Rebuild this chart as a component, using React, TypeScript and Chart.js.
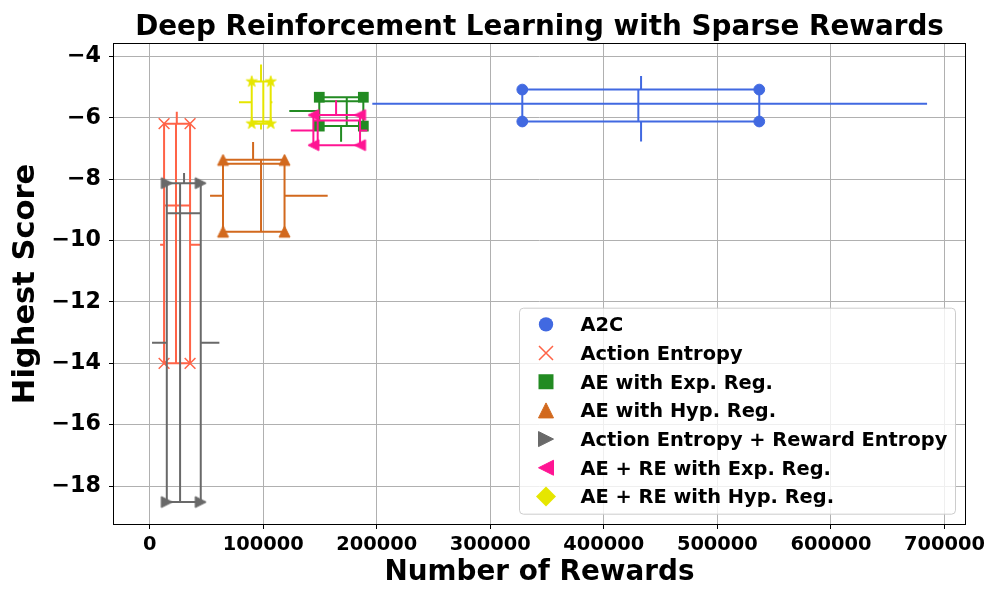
import React, { useEffect, useRef } from 'react';
import { Chart, registerables } from 'chart.js';

Chart.register(...registerables);

// ---------------- data ----------------
const seriesNames = [
  'A2C',
  'Action Entropy',
  'AE with Exp. Reg.',
  'AE with Hyp. Reg.',
  'Action Entropy + Reward Entropy',
  'AE + RE with Exp. Reg.',
  'AE + RE with Hyp. Reg.',
];

// box bounds (number of rewards / highest score)
const xBoxLow = [328200, 12700, 149400, 64600, 15100, 144200, 89900];
const xBoxHigh = [536900, 35600, 188200, 118800, 45000, 185300, 106600];
const yBoxLow = [-6.12, -14.0, -6.27, -9.71, -18.52, -6.89, -6.19];
const yBoxHigh = [-5.08, -6.19, -5.33, -7.37, -8.13, -5.91, -4.82];
// median lines inside the box
const xMedian = [430400, 23200, 173600, 98100, 26800, 148000, 100100];
const yMedian = [-5.54, -8.86, -5.46, -7.5, -9.11, -6.09, -6.12];
// whiskers
const xWhiskerAt = [432800, 23900, 168600, 91100, 30300, 164200, 98100];
const yWhiskerAt = [-5.54, -10.14, -5.78, -8.54, -13.33, -6.41, -5.49];
const xWhiskerLow = [196100, 9200, 123000, 53200, 2100, 124300, 78700];
const xWhiskerHigh = [684700, 44400, 188200, 156800, 61400, 191700, 108100];
const yWhiskerLow = [-6.77, -14.0, -6.78, -9.71, -18.52, -6.89, -6.38];
const yWhiskerHigh = [-4.64, -5.8, -5.33, -6.79, -7.8, -5.43, -4.26];

const xTickValues = [0, 100000, 200000, 300000, 400000, 500000, 600000, 700000];
const yTickValues = [-18, -16, -14, -12, -10, -8, -6, -4];

const titleText = 'Deep Reinforcement Learning with Sparse Rewards';
const xLabel = 'Number of Rewards';
const yLabel = 'Highest Score';

// ---------------- styles ----------------
const colors = ['#4169E1', '#FF6347', '#228B22', '#D2691E', '#696969', '#FF1493', '#E6E600'];
const markerKinds = ['circle', 'x', 'square', 'triUp', 'triRight', 'triLeft', 'star'];
const legendKinds = ['circle', 'x', 'square', 'triUp', 'triRight', 'triLeft', 'diamond'];
const FAMILY = '"DejaVu Sans", "Liberation Sans", sans-serif';

function drawShape(ctx: CanvasRenderingContext2D, kind: string, cx: number, cy: number, s: number, color: string) {
  const h = s / 2;
  ctx.save();
  ctx.fillStyle = color;
  ctx.strokeStyle = color;
  ctx.lineWidth = 1;
  ctx.lineJoin = 'miter';
  ctx.beginPath();
  switch (kind) {
    case 'circle':
      ctx.arc(cx, cy, h, 0, Math.PI * 2);
      ctx.fill();
      break;
    case 'x':
      ctx.lineWidth = 1.5;
      ctx.moveTo(cx - h, cy - h);
      ctx.lineTo(cx + h, cy + h);
      ctx.moveTo(cx - h, cy + h);
      ctx.lineTo(cx + h, cy - h);
      ctx.stroke();
      break;
    case 'square':
      ctx.rect(cx - h, cy - h, s, s);
      ctx.fill();
      break;
    case 'triUp':
      ctx.moveTo(cx, cy - h);
      ctx.lineTo(cx - h, cy + h);
      ctx.lineTo(cx + h, cy + h);
      ctx.closePath();
      ctx.fill();
      ctx.stroke();
      break;
    case 'triRight':
      ctx.moveTo(cx + h, cy);
      ctx.lineTo(cx - h, cy - h);
      ctx.lineTo(cx - h, cy + h);
      ctx.closePath();
      ctx.fill();
      ctx.stroke();
      break;
    case 'triLeft':
      ctx.moveTo(cx - h, cy);
      ctx.lineTo(cx + h, cy - h);
      ctx.lineTo(cx + h, cy + h);
      ctx.closePath();
      ctx.fill();
      ctx.stroke();
      break;
    case 'diamond':
      ctx.moveTo(cx, cy - h);
      ctx.lineTo(cx + h, cy);
      ctx.lineTo(cx, cy + h);
      ctx.lineTo(cx - h, cy);
      ctx.closePath();
      ctx.fill();
      break;
    case 'star': {
      const inner = h * 0.381966;
      for (let i = 0; i < 10; i++) {
        const r = i % 2 === 0 ? h : inner;
        const a = -Math.PI / 2 + (i * Math.PI) / 5;
        const px = cx + r * Math.cos(a);
        const py = cy + r * Math.sin(a);
        if (i === 0) ctx.moveTo(px, py);
        else ctx.lineTo(px, py);
      }
      ctx.closePath();
      ctx.fill();
      ctx.stroke();
      break;
    }
  }
  ctx.restore();
}

function markerCanvas(kind: string, color: string, s: number): HTMLCanvasElement {
  const dim = Math.ceil(s + 4);
  const c = document.createElement('canvas');
  c.width = dim;
  c.height = dim;
  const ctx = c.getContext('2d')!;
  drawShape(ctx, kind, dim / 2, dim / 2, s, color);
  return c;
}

function buildSegments(i: number) {
  const pts: any[] = [];
  const gap = { x: null, y: null };
  pts.push(
    { x: xBoxLow[i], y: yBoxHigh[i] },
    { x: xBoxHigh[i], y: yBoxHigh[i] },
    { x: xBoxHigh[i], y: yBoxLow[i] },
    { x: xBoxLow[i], y: yBoxLow[i] },
    { x: xBoxLow[i], y: yBoxHigh[i] },
    gap
  );
  const seg = (x1: number, y1: number, x2: number, y2: number) => {
    pts.push({ x: x1, y: y1 }, { x: x2, y: y2 }, gap);
  };
  seg(xMedian[i], yBoxLow[i], xMedian[i], yBoxHigh[i]);
  seg(xBoxLow[i], yMedian[i], xBoxHigh[i], yMedian[i]);
  seg(xWhiskerLow[i], yWhiskerAt[i], xBoxLow[i], yWhiskerAt[i]);
  seg(xBoxHigh[i], yWhiskerAt[i], xWhiskerHigh[i], yWhiskerAt[i]);
  seg(xWhiskerAt[i], yBoxHigh[i], xWhiskerAt[i], yWhiskerHigh[i]);
  seg(xWhiskerAt[i], yWhiskerLow[i], xWhiskerAt[i], yBoxLow[i]);
  return pts;
}

function corners(i: number) {
  return [
    { x: xBoxLow[i], y: yBoxHigh[i] },
    { x: xBoxHigh[i], y: yBoxHigh[i] },
    { x: xBoxLow[i], y: yBoxLow[i] },
    { x: xBoxHigh[i], y: yBoxLow[i] },
  ];
}

const framePlugin = {
  id: 'frame',
  afterDatasetsDraw(chart: any) {
    const { ctx, chartArea } = chart;
    ctx.save();
    ctx.strokeStyle = '#000';
    ctx.lineWidth = 1;
    const l = Math.round(chartArea.left) - 0.5;
    const t = Math.round(chartArea.top) - 0.5;
    const r = Math.round(chartArea.right) + 0.5;
    const b = Math.round(chartArea.bottom) + 0.5;
    ctx.strokeRect(l, t, r - l, b - t);
    ctx.restore();
  },
};

const titlePlugin = {
  id: 'customTitle',
  afterDraw(chart: any) {
    const { ctx, chartArea } = chart;
    ctx.save();
    ctx.font = `bold 27.8px ${FAMILY}`;
    ctx.fillStyle = '#000';
    ctx.textAlign = 'center';
    ctx.textBaseline = 'alphabetic';
    ctx.fillText(titleText, (chartArea.left + chartArea.right) / 2, 35);
    ctx.restore();
  },
};

const legendSizes: Record<string, number> = {
  circle: 14.3,
  x: 14,
  square: 15,
  triUp: 15,
  triRight: 15,
  triLeft: 15,
  diamond: 20,
};

const legendPlugin = {
  id: 'customLegend',
  afterDraw(chart: any) {
    const { ctx, chartArea } = chart;
    const w = 436;
    const h = 206;
    const right = chartArea.right - 10;
    const bottom = chartArea.bottom - 10.3;
    const left = right - w;
    const top = bottom - h;
    ctx.save();
    ctx.beginPath();
    (ctx as any).roundRect(left + 0.5, top + 0.5, w, h, 4);
    ctx.fillStyle = 'rgba(255,255,255,0.8)';
    ctx.fill();
    ctx.strokeStyle = '#cccccc';
    ctx.lineWidth = 1;
    ctx.stroke();
    ctx.font = `bold 19.4px ${FAMILY}`;
    ctx.fillStyle = '#000';
    ctx.textAlign = 'left';
    ctx.textBaseline = 'alphabetic';
    seriesNames.forEach((name, i) => {
      const cy = top + 16.7 + i * 28.67;
      const kind = legendKinds[i];
      drawShape(ctx, kind, left + 27, cy, legendSizes[kind], colors[i]);
      ctx.fillStyle = '#000';
      ctx.fillText(name, left + 61.5, cy + 7);
    });
    ctx.restore();
  },
};

export default function App() {
  const ref = useRef<HTMLCanvasElement>(null);

  useEffect(() => {
    document.body.style.margin = '0';
    const canvas = ref.current!;
    const datasets: any[] = [];
    const total = seriesNames.length * 2;
    let k = 0;
    seriesNames.forEach((name, i) => {
      datasets.push({
        label: name + ' (box)',
        data: buildSegments(i),
        showLine: true,
        borderColor: colors[i],
        backgroundColor: colors[i],
        borderWidth: 2,
        pointRadius: 0,
        pointHoverRadius: 0,
        spanGaps: false,
        fill: false,
        tension: 0,
        order: total - k++,
      });
      const kind = markerKinds[i];
      let pointStyle: any = 'circle';
      let pointRadius = 5.4;
      let borderWidth = 1;
      if (kind === 'x') {
        pointStyle = 'crossRot';
        pointRadius = 7.6;
        borderWidth = 1.5;
      } else if (kind === 'square') {
        pointStyle = 'rect';
        pointRadius = 7.6;
        borderWidth = 0;
      } else if (kind === 'star') {
        pointStyle = markerCanvas('star', colors[i], 11.5);
        pointRadius = 6;
      } else if (kind !== 'circle') {
        pointStyle = markerCanvas(kind, colors[i], 11);
        pointRadius = 6;
      }
      datasets.push({
        label: name,
        data: corners(i),
        showLine: false,
        pointStyle,
        pointRadius,
        pointHoverRadius: pointRadius,
        backgroundColor: colors[i],
        borderColor: colors[i],
        borderWidth,
        order: total - k++,
      });
    });

    const tickFontX = { family: FAMILY, size: 19.4, weight: 'bold' as const };
    const tickFontY = { family: FAMILY, size: 22.2, weight: 'bold' as const };

    const chart = new Chart(canvas, {
      type: 'scatter',
      data: { datasets },
      options: {
        animation: false,
        responsive: true,
        maintainAspectRatio: false,
        events: [],
        layout: { padding: { top: 44, right: 35, left: 0, bottom: 0 } },
        plugins: {
          legend: { display: false },
          title: { display: false },
          tooltip: { enabled: false },
        },
        scales: {
          x: {
            type: 'linear',
            position: 'bottom',
            min: -31400,
            max: 718100,
            afterFit: (s: any) => {
              s.height = 76;
            },
            afterBuildTicks: (s: any) => {
              s.ticks = xTickValues.map((v) => ({ value: v }));
            },
            ticks: {
              callback: (v: any) => String(v),
              font: tickFontX,
              color: '#000',
              padding: 4,
              maxRotation: 0,
              autoSkip: false,
            },
            grid: { color: '#b0b0b0', lineWidth: 1, tickColor: '#000', tickLength: 5, tickWidth: 1 },
            border: { display: false },
            title: {
              display: true,
              text: xLabel,
              font: { family: FAMILY, size: 27.8, weight: 'bold' },
              color: '#000',
              padding: { top: 0, bottom: 11 },
            },
          },
          y: {
            type: 'linear',
            position: 'left',
            min: -19.235,
            max: -3.595,
            afterFit: (s: any) => {
              s.width = 114;
            },
            afterBuildTicks: (s: any) => {
              s.ticks = yTickValues.map((v) => ({ value: v }));
            },
            ticks: {
              callback: (v: any) => (v < 0 ? '\u2212' + Math.abs(v) : String(v)),
              font: tickFontY,
              color: '#000',
              padding: 8,
              autoSkip: false,
            },
            grid: { color: '#b0b0b0', lineWidth: 1, tickColor: '#000', tickLength: 5, tickWidth: 1 },
            border: { display: false },
            title: {
              display: true,
              text: yLabel,
              font: { family: FAMILY, size: 30.5, weight: 'bold' },
              color: '#000',
              padding: { top: 8, bottom: 0 },
            },
          },
        },
      } as any,
      plugins: [framePlugin, titlePlugin, legendPlugin],
    });
    return () => chart.destroy();
  }, []);

  return (
    <div style={{ position: 'absolute', left: 0, top: 0, width: 1000, height: 600 }}>
      <canvas ref={ref} />
    </div>
  );
}
